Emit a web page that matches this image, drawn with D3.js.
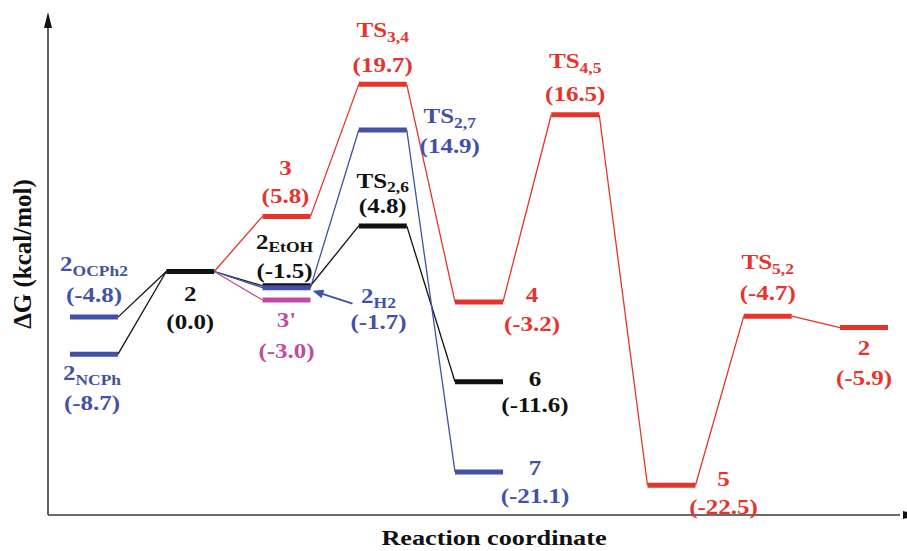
<!DOCTYPE html>
<html>
<head>
<meta charset="utf-8">
<script src="https://cdn.jsdelivr.net/npm/d3@7/dist/d3.min.js"></script>
<style>
  html, body { margin: 0; padding: 0; background: #fff; }
  svg { display: block; }
  text { font-family: "Liberation Serif", "Times New Roman", serif; font-weight: bold; }
</style>
</head>
<body>
<svg id="chart" width="907" height="551"></svg>
<script>
// ---------------- data ----------------
const stateNames   = ["2", "2", "2", "3", "2", "2", "3'", "TS", "TS", "TS", "4", "6", "7", "TS", "5", "TS", "2"];
const stateSubs    = ["OCPh2", "NCPh", "", "", "EtOH", "H2", "", "3,4", "2,6", "2,7", "", "", "", "4,5", "", "5,2", ""];
const stateColumns = [0, 0, 1, 2, 2, 2, 2, 3, 3, 3, 4, 4, 4, 5, 6, 7, 8];
const stateEnergies = [-4.8, -8.7, 0.0, 5.8, -1.5, -1.7, -3.0, 19.7, 4.8, 14.9, -3.2, -11.6, -21.1, 16.5, -22.5, -4.7, -5.9];
const stateSeries  = ["blue", "blue", "black", "red", "black", "blue", "magenta", "red", "black", "blue", "red", "black", "blue", "red", "red", "red", "red"];
// connections between states (index pairs: from -> to)
const pathLinks = [[0, 2], [1, 2], [2, 3], [2, 4], [2, 5], [2, 6], [3, 7], [4, 8], [5, 9],
                   [7, 10], [8, 11], [9, 12], [10, 13], [13, 14], [14, 15], [15, 16]];
const xAxisTitle = "Reaction coordinate";
const yAxisTitle = "\u0394G (kcal/mol)";

// ---------------- layout / style ----------------
const seriesColor = { red: "#e6332b", blue: "#4152a6", black: "#111111", magenta: "#c04c9f" };
// label offsets: [dx from bar centre, name baseline dy, value baseline dy, subscript drop]
const labelLayout = [
  [0, -46, -15, 5], [-2, 26, 56, 5], [0, 29, 57, 5], [-1, -41, -13, 5], [-2, -37, -8, 3],
  [92, 15, 41, 5], [0, 27, 58, 5], [0, -47, -12, 5], [0, -38, -13, 4], [67, -7, 23, 5],
  [53, 0, 29, 5], [56, 4, 30, 5], [56, 3, 31, 5], [0, -47, -14, 5], [52, 1, 29, 5],
  [0, -47, -16, 5], [0, 27, 57, 5]
];
const barWidth = 48;
const hStretch = 1.25;

const svg = d3.select("#chart");
const x = d3.scaleLinear().domain([0, 8]).range([94, 864]);
const y = d3.scaleLinear().domain([-25, 25]).range([509, 34]);

const axisX0 = 48, axisY0 = 515;

// axes
svg.append("line").attr("x1", axisX0).attr("x2", axisX0).attr("y1", 24).attr("y2", axisY0)
  .attr("stroke", "#3a3a3a").attr("stroke-width", 1.6);
svg.append("line").attr("x1", axisX0).attr("x2", 900).attr("y1", axisY0).attr("y2", axisY0)
  .attr("stroke", "#3a3a3a").attr("stroke-width", 1.6);
svg.append("path").attr("d", `M${axisX0},12 L${axisX0 - 4},28 L${axisX0 + 4},28 Z`).attr("fill", "#111");
svg.append("path").attr("d", `M919,${axisY0} L903,${axisY0 - 4} L903,${axisY0 + 4} Z`).attr("fill", "#111");

// states
const states = stateEnergies.map((v, i) => ({
  i, v, col: stateColumns[i], name: stateNames[i], sub: stateSubs[i], color: seriesColor[stateSeries[i]]
}));

// connectors
svg.append("g").selectAll("line").data(pathLinks).join("line")
  .attr("x1", d => x(states[d[0]].col) + barWidth / 2)
  .attr("y1", d => y(states[d[0]].v))
  .attr("x2", d => x(states[d[1]].col) - barWidth / 2)
  .attr("y2", d => y(states[d[1]].v))
  .attr("stroke", d => states[d[1]].color)
  .attr("stroke-width", 1.3);

// level bars
svg.append("g").selectAll("line").data(states).join("line")
  .attr("x1", d => x(d.col) - barWidth / 2)
  .attr("x2", d => x(d.col) + barWidth / 2)
  .attr("y1", d => y(d.v)).attr("y2", d => y(d.v))
  .attr("stroke", d => d.color).attr("stroke-width", 5);

// arrow pointing at 2_H2
const h2 = states[5];
const hx = x(h2.col) + barWidth / 2 + 2, hy = y(h2.v) + 3;
svg.append("line").attr("x1", hx + 40).attr("y1", hy + 13).attr("x2", hx + 6).attr("y2", hy + 2)
  .attr("stroke", seriesColor.blue).attr("stroke-width", 1.8);
svg.append("path")
  .attr("d", "M0,0 L-11,-4.5 L-11,4.5 Z")
  .attr("transform", `translate(${hx},${hy}) rotate(${Math.atan2(-13, -40) * 180 / Math.PI})`)
  .attr("fill", seriesColor.blue);

// labels
const lab = svg.append("g").selectAll("g").data(states).join("g")
  .attr("fill", d => d.color);

lab.each(function (d) {
  const g = d3.select(this);
  const [dx, dn, dv, ds] = labelLayout[d.i];
  const cx = x(d.col) + dx, by = y(d.v);
  const t = g.append("text")
    .attr("text-anchor", "middle")
    .attr("transform", `translate(${cx},${by + dn}) scale(${hStretch},1)`);
  t.append("tspan").attr("font-size", 20).text(d.name);
  if (d.sub) t.append("tspan").attr("font-size", 14).attr("dy", ds).text(d.sub);
  g.append("text")
    .attr("text-anchor", "middle")
    .attr("font-size", 20)
    .attr("transform", `translate(${cx},${by + dv}) scale(${hStretch},1)`)
    .text("(" + d.v.toFixed(1) + ")");
});

// axis titles
svg.append("text").attr("text-anchor", "middle").attr("font-size", 21).attr("fill", "#111")
  .attr("transform", `translate(494,545) scale(${hStretch},1)`).text(xAxisTitle);
svg.append("text").attr("text-anchor", "middle").attr("font-size", 25).attr("fill", "#111")
  .attr("transform", "translate(31,254) rotate(-90)").text(yAxisTitle);
</script>
</body>
</html>
